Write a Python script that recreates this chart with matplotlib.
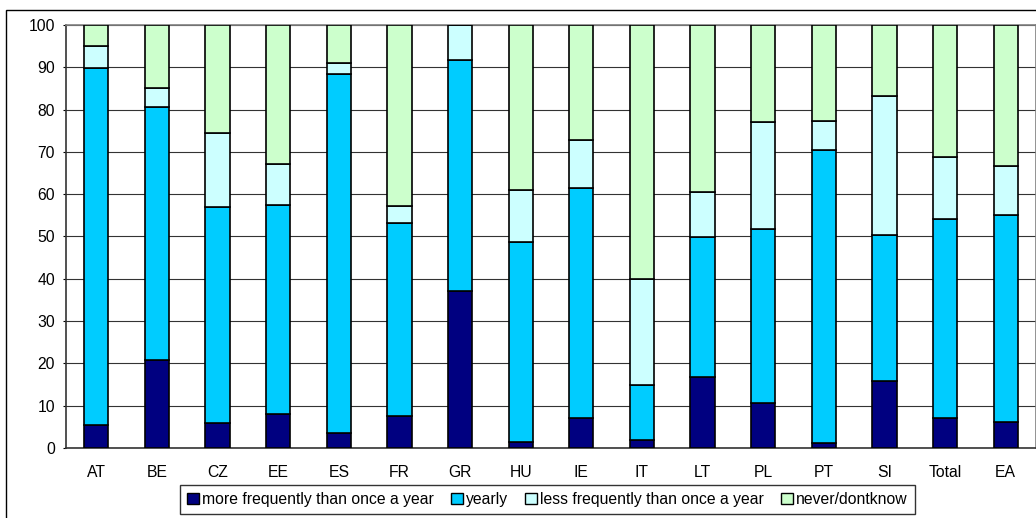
import matplotlib
matplotlib.use("Agg")
import matplotlib.pyplot as plt
from matplotlib.patches import Rectangle, Patch
import numpy as np

plt.rcParams['font.family'] = ['Liberation Sans', 'DejaVu Sans']

categories = ["AT", "BE", "CZ", "EE", "ES", "FR", "GR", "HU", "IE", "IT",
              "LT", "PL", "PT", "SI", "Total", "EA"]
more_frequent = [5.4, 20.9, 5.9, 8.1, 3.6, 7.6, 37.2, 1.4, 7.1, 1.8,
                 16.7, 10.6, 1.3, 15.8, 7.1, 6.2]
yearly = [84.5, 59.7, 51.1, 49.4, 84.9, 45.5, 54.5, 47.3, 54.4, 13.0,
          33.1, 41.2, 69.1, 34.6, 47.0, 48.8]
less_frequent = [5.2, 4.6, 17.4, 9.6, 2.5, 4.1, 8.3, 12.2, 11.2, 25.2,
                 10.7, 25.2, 6.8, 32.8, 14.6, 11.7]
never_dontknow = [4.9, 14.8, 25.6, 32.9, 9.0, 42.8, 0.0, 39.1, 27.3, 60.0,
                  39.5, 23.0, 22.8, 16.8, 31.3, 33.3]
series_names = ["more frequently than once a year", "yearly",
                "less frequently than once a year", "never/dontknow"]
colors = ["#000080", "#00CCFF", "#CCFFFF", "#CCFFCC"]
yticks = list(range(0, 101, 10))

W, H = 1036, 518
fs = 11.3
fig = plt.figure(figsize=(W / 100, H / 100), dpi=100)
ax = fig.add_axes([66 / W, 70 / H, 970 / W, 423 / H])

x = np.arange(len(categories))
bottom = np.zeros(len(categories))
handles = []
for vals, name, c in zip([more_frequent, yearly, less_frequent, never_dontknow],
                         series_names, colors):
    v = np.array(vals)
    ax.bar(x, v, bottom=bottom, width=0.4, color=c, edgecolor="black",
           linewidth=1.2, zorder=3)
    bottom += v
    handles.append(Patch(facecolor=c, edgecolor="black", linewidth=1.0, label=name))

ax.set_xlim(-0.5, len(categories) - 0.5)
ax.set_ylim(0, 100)
ax.set_yticks(yticks)
ax.set_xticks(x)
ax.set_xticklabels(categories)
ax.yaxis.grid(True, color="#333333", linewidth=0.8, zorder=0)
ax.set_axisbelow(True)
ax.tick_params(axis="x", length=0, pad=12, labelsize=fs)
ax.tick_params(axis="y", length=2, pad=6, labelsize=fs, width=0.8)
for s in ["top", "right"]:
    ax.spines[s].set_color("#808080")
    ax.spines[s].set_linewidth(1.2)
for s in ["left", "bottom"]:
    ax.spines[s].set_color("#333333")
    ax.spines[s].set_linewidth(1.2)

# outer chart border
fig.patches.append(Rectangle((6 / W, -0.2), 1.5, (H - 10) / H + 0.2,
                             transform=fig.transFigure, fill=False,
                             edgecolor="black", linewidth=1.0))

leg = fig.legend(handles=handles, loc="center", ncol=4,
                 bbox_to_anchor=(547.5 / W, 1 - 499.5 / H),
                 fontsize=fs, frameon=True, fancybox=False,
                 edgecolor="black", handlelength=0.75, handleheight=0.75,
                 handletextpad=0.2, columnspacing=1.1, borderpad=0.45,
                 borderaxespad=0)
leg.get_frame().set_linewidth(1.0)

fig.savefig("out.png", dpi=100)
